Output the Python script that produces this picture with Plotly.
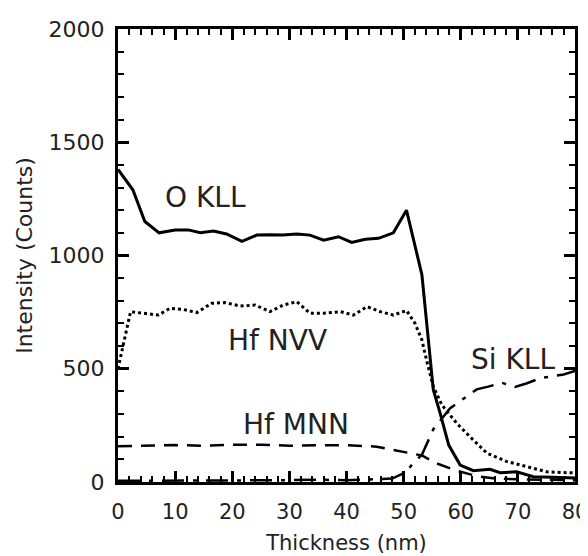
import plotly.graph_objects as go

# ---- data ----
o_kll_x = [0, 2.6, 4.7, 7.2, 10, 12.3, 14.4, 16.7, 19, 21.7, 24.3, 26.5, 28.9, 31.3, 33.6, 36,
           38.6, 40.9, 43.3, 45.6, 48.2, 50.5, 53.2, 55.2, 56.4, 57.9, 59.9, 62.2, 65.1, 66.9,
           69.8, 72.7, 76.2, 80]
o_kll_y = [1380, 1290, 1150, 1100, 1113, 1113, 1101, 1108, 1095, 1062, 1090, 1092, 1090, 1095,
           1090, 1068, 1083, 1058, 1072, 1076, 1100, 1200, 915, 406, 303, 163, 75, 50, 56, 41,
           45, 23, 21, 18]

hf_nvv_x = [0, 2.2, 4.4, 7.1, 9.1, 11.4, 13.8, 16.4, 18.7, 21.4, 24, 26.6, 28.9, 31.3, 33.6,
            36, 38.9, 41.2, 43.6, 45.9, 48.2, 50.5, 52, 53.2, 54, 55.2, 56.7, 59.3, 61.6, 64.6,
            68.1, 71.6, 75.1, 78.6, 80]
hf_nvv_y = [500, 752, 745, 737, 767, 762, 748, 789, 792, 777, 781, 752, 781, 796, 745, 745,
            752, 737, 774, 752, 737, 757, 700, 627, 539, 421, 340, 259, 200, 127, 90, 68, 45,
            41, 40]

hf_mnn_x = [0, 5, 10, 15, 20, 25, 30, 35, 40, 45.3, 49.4, 53.2, 55.8, 59.3, 62.8, 66, 70, 75, 80]
hf_mnn_y = [158, 160, 163, 160, 165, 165, 160, 162, 163, 156, 134, 117, 82, 50, 26, 15, 12, 10, 8]

si_kll_x = [0, 5, 10, 15, 20, 25, 30, 35, 40, 45, 48, 50.5, 51.7, 53.2, 55.2, 58.1, 60.5, 62.8,
            64.8, 67.2, 69.5, 71.6, 73.9, 75.7, 78, 80]
si_kll_y = [5, 5, 8, 5, 8, 6, 8, 10, 8, 12, 15, 45, 85, 120, 233, 325, 370, 409, 421, 438, 420,
            436, 458, 465, 475, 490]

label_text = ["O KLL", "Hf NVV", "Hf MNN", "Si KLL"]
label_x = [15.4, 28.0, 31.2, 69.1]
label_y = [1254, 623, 256, 543]

x_ticks = [0, 10, 20, 30, 40, 50, 60, 70, 80]
y_ticks = [0, 500, 1000, 1500, 2000]

FONT = "DejaVu Sans"

fig = go.Figure()
fig.add_trace(go.Scatter(x=o_kll_x, y=o_kll_y, mode="lines",
                         line=dict(color="black", width=3)))
fig.add_trace(go.Scatter(x=hf_nvv_x, y=hf_nvv_y, mode="lines",
                         line=dict(color="black", width=3, dash="3px,3px")))
fig.add_trace(go.Scatter(x=hf_mnn_x, y=hf_mnn_y, mode="lines",
                         line=dict(color="black", width=2.5, dash="14px,9px")))
fig.add_trace(go.Scatter(x=si_kll_x, y=si_kll_y, mode="lines",
                         line=dict(color="black", width=2.5, dash="22px,9px,4px,9px")))

for t, xx, yy in zip(label_text, label_x, label_y):
    fig.add_annotation(x=xx, y=yy, xref="x", yref="y", text=t, showarrow=False,
                       font=dict(family=FONT, size=28, color="#222"))

axis_common = dict(showline=True, linecolor="black", linewidth=3, mirror="ticks",
                   ticks="inside", ticklen=11, tickwidth=2.5, tickcolor="black",
                   showgrid=False, zeroline=False, automargin=False,
                   ticklabeloverflow="allow")

fig.update_xaxes(range=[0, 80], tickvals=x_ticks, **axis_common,
                 tickfont=dict(family=FONT, size=21, color="#222"),
                 minor=dict(dtick=2, ticks="inside", ticklen=6, tickwidth=2, tickcolor="black"),
                 title=dict(text="Thickness (nm)", font=dict(family=FONT, size=21, color="#222"),
                            standoff=13),
                 ticklabelstandoff=9)
fig.update_yaxes(range=[0, 2000], tickvals=y_ticks, **axis_common,
                 tickfont=dict(family=FONT, size=22, color="#222"),
                 minor=dict(dtick=100, ticks="inside", ticklen=6, tickwidth=2, tickcolor="black"),
                 title=dict(text="Intensity (Counts)", font=dict(family=FONT, size=22, color="#222"),
                            standoff=10),
                 ticklabelstandoff=6)

# the page body adds an 8px margin, so the figure is sized to fit the 588x556 window
fig.update_layout(width=580, height=548, margin=dict(l=110, r=13, t=21, b=74),
                  paper_bgcolor="white", plot_bgcolor="white", showlegend=False)

fig.write_html("out.html")
